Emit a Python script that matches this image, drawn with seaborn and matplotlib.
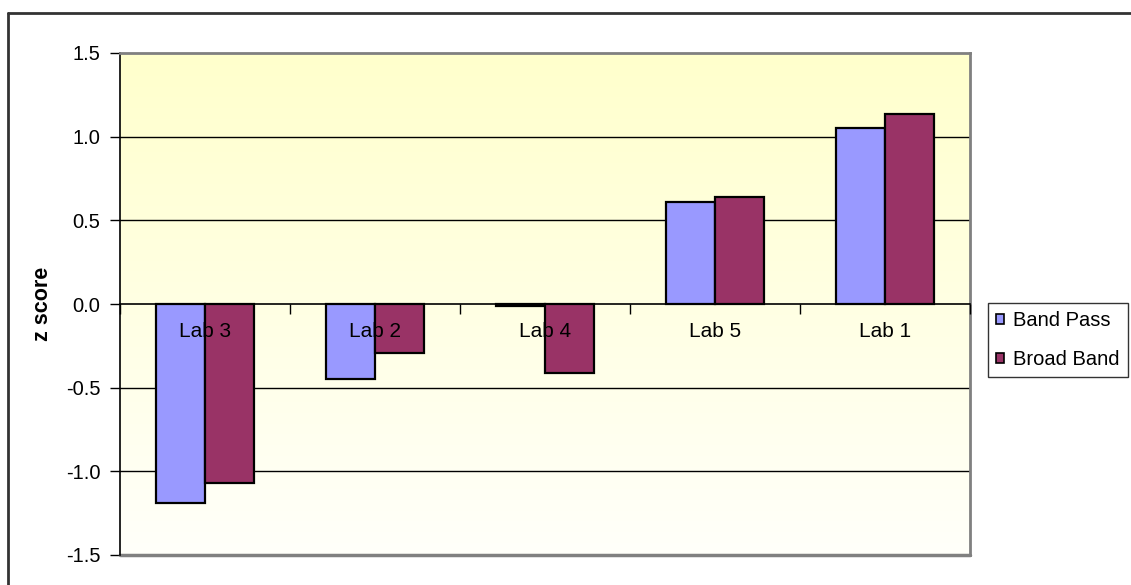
import numpy as np
import pandas as pd
import matplotlib
matplotlib.use("Agg")
import matplotlib.pyplot as plt
from matplotlib.lines import Line2D
from matplotlib.patches import Patch
import seaborn as sns

# Lab comparison data
labs = ["Lab 3", "Lab 2", "Lab 4", "Lab 5", "Lab 1"]
band_pass = [-1.19, -0.45, -0.01, 0.61, 1.05]
broad_band = [-1.07, -0.29, -0.41, 0.64, 1.135]
series_names = ["Band Pass", "Broad Band"]
series_colors = ["#9999FF", "#993366"]
y_ticks = [-1.5, -1.0, -0.5, 0.0, 0.5, 1.0, 1.5]

df = pd.DataFrame({
    "lab": labs * 2,
    "z": band_pass + broad_band,
    "series": [series_names[0]] * len(labs) + [series_names[1]] * len(labs),
})

sns.set_theme(style="white")
plt.rcParams["font.family"] = ["Liberation Sans", "DejaVu Sans"]
plt.rcParams["text.color"] = "black"
plt.rcParams["axes.labelcolor"] = "black"
plt.rcParams["xtick.color"] = "black"
plt.rcParams["ytick.color"] = "black"

W, H = 1131, 585
fig = plt.figure(figsize=(W / 100, H / 100), dpi=100)
ax = fig.add_axes([120 / W, 1 - 555 / H, 850 / W, 502 / H])

# vertical yellow gradient fill of the plotting area
top_c = np.array([255, 255, 204]) / 255
bot_c = np.array([255, 255, 250]) / 255
t = np.linspace(0, 1, 256)[:, None]
grad = (top_c[None, :] * (1 - t) + bot_c[None, :] * t)[:, None, :]
ax.imshow(grad, extent=[-0.5, 4.5, -1.5, 1.5], aspect="auto", zorder=0,
          interpolation="bilinear", origin="upper")

# horizontal gridlines
for yv in y_ticks[1:-1]:
    if yv != 0:
        ax.axhline(yv, color="black", lw=1.0, zorder=1)

sns.barplot(data=df, x="lab", y="z", hue="series", order=labs,
            hue_order=series_names, palette=series_colors, width=0.571,
            edgecolor="black", linewidth=1.6, saturation=1, ax=ax,
            legend=False, zorder=3)

ax.set_xlim(-0.5, 4.5)
ax.set_ylim(-1.5, 1.5)
ax.set_yticks(y_ticks)
ax.set_yticklabels([f"{v:.1f}" for v in y_ticks], fontsize=14.5)
ax.tick_params(axis="y", direction="out", length=7, width=1.0,
               color="black", labelcolor="black", pad=7, left=True)

# category axis sits on zero, labels drawn over the bars
ax.spines["bottom"].set_position(("data", 0))
ax.spines["bottom"].set_color("black")
ax.spines["bottom"].set_linewidth(1.2)
ax.spines["bottom"].set_zorder(4)
ax.set_xticks(range(len(labs)))
ax.set_xticklabels(labs, fontsize=15)
ax.set_xticks(np.arange(-0.5, 5.0, 1.0), minor=True)
ax.tick_params(axis="x", which="major", length=0, pad=13, bottom=True,
               labelcolor="black")
ax.tick_params(axis="x", which="minor", direction="out", length=7,
               width=1.0, color="black", bottom=True)
ax.xaxis.set_zorder(5)

ax.spines["left"].set_color("black")
ax.spines["left"].set_linewidth(1.2)
for side in ["top", "right"]:
    ax.spines[side].set_color("#808080")
    ax.spines[side].set_linewidth(2)
ax.plot([0, 1], [0, 0], transform=ax.transAxes, color="#808080", lw=2.5,
        clip_on=False, zorder=2)

ax.set_xlabel("")
ax.set_ylabel("z score", fontsize=15.5, fontweight="bold", color="black")
ax.yaxis.set_label_coords((53 - 120) / 850, 0.5)

# legend
handles = [Patch(facecolor=c, edgecolor="black", linewidth=1.2, label=n)
           for c, n in zip(series_colors, series_names)]
leg = fig.legend(handles=handles, loc="upper left",
                 bbox_to_anchor=(988 / W, 1 - 303 / H),
                 frameon=True, fancybox=False, shadow=False, fontsize=14.5,
                 handlelength=0.4, handleheight=0.4, handletextpad=0.45,
                 borderpad=0.4, labelspacing=1.0, borderaxespad=0,
                 labelcolor="black")
leg.get_frame().set_edgecolor("black")
leg.get_frame().set_linewidth(1.0)

# outer chart frame
fig.add_artist(Line2D([8 / W, 8 / W], [0, 1 - 13 / H],
                      transform=fig.transFigure, color="#333333", lw=2))
fig.add_artist(Line2D([8 / W, 1], [1 - 13 / H, 1 - 13 / H],
                      transform=fig.transFigure, color="#333333", lw=2))

fig.savefig("out.png", dpi=100)
